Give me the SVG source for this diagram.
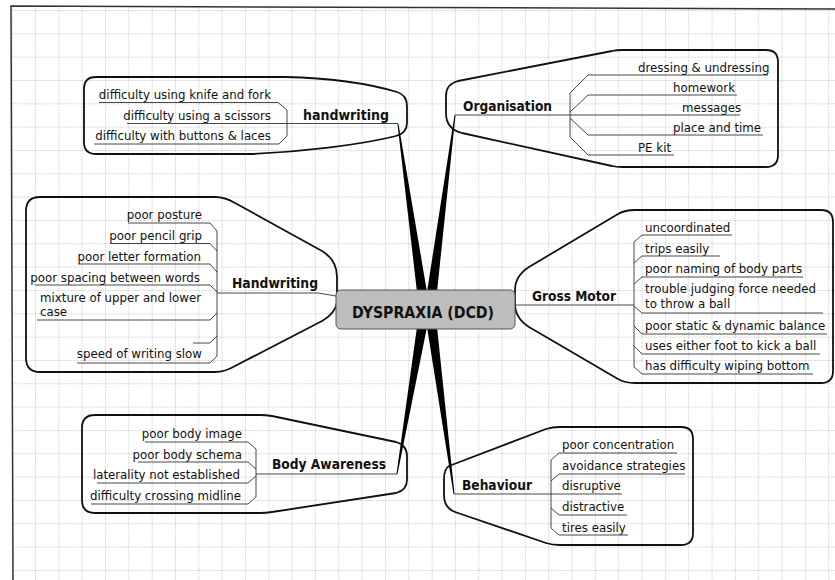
<svg xmlns="http://www.w3.org/2000/svg" width="835" height="580" viewBox="0 0 835 580">
<defs>
<pattern id="grid" x="11.67" y="10" width="23.33" height="23.33" patternUnits="userSpaceOnUse">
<path d="M0 0.5H23.33M0.5 0V23.33" fill="none" stroke="#cfcfcf" stroke-width="0.8" stroke-dasharray="2 1"/>
</pattern>
<style>
.bub{fill:none;stroke:#111;stroke-width:1.8;stroke-linejoin:round}
.ln{fill:none;stroke:#333;stroke-width:0.9}
.it{font-family:"DejaVu Sans",Verdana,sans-serif;font-size:11.8px;fill:#111}
.hd{font-family:"DejaVu Sans",Verdana,sans-serif;font-size:14.5px;font-weight:bold;fill:#111}
.e{text-anchor:end}
.cn{fill:#000}
</style>
</defs>
<rect width="835" height="580" fill="#fff"/>
<rect x="12" y="7" width="823" height="573" fill="url(#grid)"/>
<path d="M835,9 L11,6 L13,580" fill="none" stroke="#333" stroke-width="1.5"/>

<g id="connectors">
<polygon class="cn" points="397.5,124 398.5,124 427,292 417,292"/>
<polygon class="cn" points="454.5,115 455.5,115 437,292 427,292"/>
<polygon class="cn" points="417,327 427,327 397.5,474 396.5,474"/>
<polygon class="cn" points="427,327 437,327 454.5,494 453.5,494"/>
<path class="ln" d="M217,293 H318 L336,296"/>
<path class="ln" d="M515,305 H634"/>
</g>

<g id="handwriting-top">
<path class="bub" d="M96,77 L285,77 C330,78 370,84 397,92 Q407,95 407,106 L407,123 Q407,133 396,136 C360,145 300,152 250,154 L96,154 Q84,154 84,142 L84,89 Q84,77 96,77 Z"/>
<path class="ln" d="M99,102.5 H278 L287,110 V136 L279,144 H94 M127,123.5 H398"/>
<text class="it e" x="271" y="99">difficulty using knife and fork</text>
<text class="it e" x="271" y="120">difficulty using a scissors</text>
<text class="it e" x="271" y="140">difficulty with buttons &amp; laces</text>
<text class="hd" x="303" y="120" textLength="86" lengthAdjust="spacingAndGlyphs">handwriting</text>
</g>

<g id="organisation">
<path class="bub" d="M458,81 L612,51 Q616,50 622,50 L766,50 Q778,50 778,62 L778,155 Q778,167 766,167 L622,167 Q616,167 612,166 L462,133 Q446,129 446,113 L446,96 Q446,84 458,81 Z"/>
<path class="ln" d="M768,75 H588 L570,93 V137 L588,155 H674 M737,95 H588 L570,112 M455,115 H740 M763,135 H588 L570,118"/>
<text class="it" x="638" y="72">dressing &amp; undressing</text>
<text class="it" x="673" y="92">homework</text>
<text class="it" x="682" y="112">messages</text>
<text class="it" x="673" y="132">place and time</text>
<text class="it" x="638" y="152">PE kit</text>
<text class="hd" x="463" y="111" textLength="89" lengthAdjust="spacingAndGlyphs">Organisation</text>
</g>

<g id="handwriting">
<path class="bub" d="M40,197 L215,197 Q225,197 235,203 L322,251 Q337,260 337,277 L337,300 Q337,312 322,321 L235,366 Q225,372 215,372 L40,372 Q26,372 26,358 L26,211 Q26,197 40,197 Z"/>
<path class="ln" d="M128,223 H210 L217,231 V356 L210,363 H77 M110,243.5 H210 L217,251 M78,264 H210 L217,272 M35,285 H210 L217,292 M37,320 H210 L217,313 M193,343 H210 L217,336"/>
<text class="it e" x="202" y="219">poor posture</text>
<text class="it e" x="202" y="240">poor pencil grip</text>
<text class="it e" x="201" y="261">poor letter formation</text>
<text class="it e" x="200" y="282">poor spacing between words</text>
<text class="it" x="40" y="302">mixture of upper and lower</text>
<text class="it" x="40" y="316">case</text>
<text class="it e" x="202" y="358">speed of writing slow</text>
<text class="hd" x="232" y="288" textLength="86" lengthAdjust="spacingAndGlyphs">Handwriting</text>
</g>

<g id="gross-motor">
<path class="bub" d="M515,290 Q515,276 529,267 L618,214 Q625,210 635,210 L821,210 Q833,210 833,222 L833,371 Q833,383 821,383 L635,383 Q625,383 618,379 L529,327 Q515,318 515,304 Z"/>
<path class="ln" d="M732,235 H642 L634,242 V367 L642,374 H813 M720,256 H642 L634,263 M803,277 H642 L634,284 M634,306 L642,313 H823 M827,334 H642 L634,326 M820,354 H642 L634,346"/>
<text class="it" x="645" y="232">uncoordinated</text>
<text class="it" x="645" y="253">trips easily</text>
<text class="it" x="645" y="273">poor naming of body parts</text>
<text class="it" x="645" y="293">trouble judging force needed</text>
<text class="it" x="645" y="308">to throw a ball</text>
<text class="it" x="645" y="330">poor static &amp; dynamic balance</text>
<text class="it" x="645" y="350">uses either foot to kick a ball</text>
<text class="it" x="645" y="370">has difficulty wiping bottom</text>
<text class="hd" x="532" y="301" textLength="84" lengthAdjust="spacingAndGlyphs">Gross Motor</text>
</g>

<g id="body-awareness">
<path class="bub" d="M95,415 L260,415 Q266,415 272,416 L396,442 Q407,445 407,456 L407,480 Q407,490 396,493 L272,512 Q266,513 260,513 L95,513 Q82,513 82,500 L82,428 Q82,415 95,415 Z"/>
<path class="ln" d="M145,442 H248 L256,449 V497 L248,504 H91 M138,462 H248 L256,469 M256,474 H397 M97,483 H248 L256,476"/>
<text class="it e" x="242" y="438">poor body image</text>
<text class="it e" x="242" y="459">poor body schema</text>
<text class="it e" x="240" y="479">laterality not established</text>
<text class="it e" x="241" y="500">difficulty crossing midline</text>
<text class="hd" x="272" y="469" textLength="114" lengthAdjust="spacingAndGlyphs">Body Awareness</text>
</g>

<g id="behaviour">
<path class="bub" d="M449,466 L546,429 Q552,427 560,427 L681,427 Q693,427 693,439 L693,533 Q693,545 681,545 L560,545 Q552,545 546,543 L455,512 Q444,508 444,495 L444,479 Q444,469 449,466 Z"/>
<path class="ln" d="M677,453 H559 L551,460 V528 L559,535 H628 M685,474 H559 L551,481 M454,494 H622 M627,515 H559 L551,508"/>
<text class="it" x="562" y="449">poor concentration</text>
<text class="it" x="562" y="470">avoidance strategies</text>
<text class="it" x="562" y="490">disruptive</text>
<text class="it" x="562" y="511">distractive</text>
<text class="it" x="562" y="532">tires easily</text>
<text class="hd" x="462" y="490" textLength="70" lengthAdjust="spacingAndGlyphs">Behaviour</text>
</g>

<g id="center">
<rect x="336" y="290" width="179" height="39" rx="5" fill="#bdbdbd" stroke="#555" stroke-width="1"/>
<text x="352" y="318" font-family="DejaVu Sans,Verdana,sans-serif" font-size="16.5" font-weight="bold" fill="#111" textLength="142" lengthAdjust="spacingAndGlyphs">DYSPRAXIA (DCD)</text>
</g>
</svg>
